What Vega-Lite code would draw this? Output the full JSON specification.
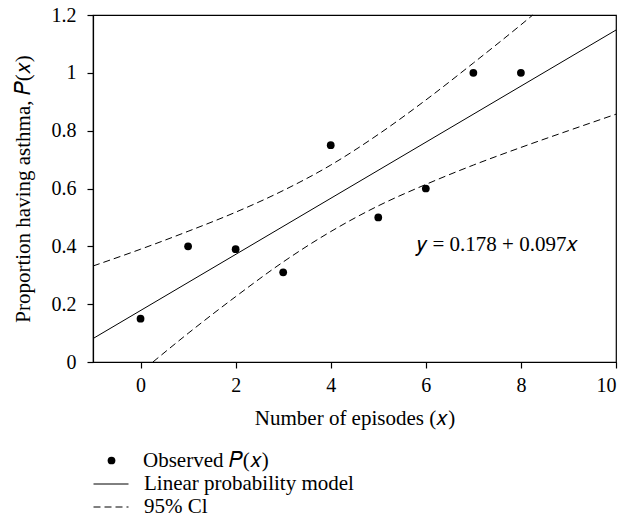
{
  "$schema": "https://vega.github.io/schema/vega-lite/v6.json",
  "width": 523,
  "height": 347,
  "autosize": {"type": "none"},
  "padding": {"left": 93, "top": 15, "right": 21, "bottom": 162},
  "background": "white",
  "config": {
    "font": "Liberation Serif",
    "view": {"stroke": "black", "strokeWidth": 1.2},
    "axis": {
      "labelFont": "Liberation Serif",
      "titleFont": "Liberation Serif",
      "labelFontSize": 20,
      "titleFontSize": 21,
      "titleFontWeight": "normal",
      "labelColor": "black",
      "titleColor": "black",
      "domainColor": "black",
      "tickColor": "black",
      "grid": false,
      "tickSize": 6,
      "domainWidth": 1.2,
      "tickWidth": 1.2
    },
    "legend": {"labelFont": "Liberation Serif", "labelFontSize": 21, "labelColor": "black", "labelLimit": 400, "padding": 0}
  },
  "datasets": {
    "observed": [
      {"x": 0, "p": 0.15, "series": "Observed P(x)"},
      {"x": 1, "p": 0.40, "series": "Observed P(x)"},
      {"x": 2, "p": 0.39, "series": "Observed P(x)"},
      {"x": 3, "p": 0.31, "series": "Observed P(x)"},
      {"x": 4, "p": 0.75, "series": "Observed P(x)"},
      {"x": 5, "p": 0.50, "series": "Observed P(x)"},
      {"x": 6, "p": 0.60, "series": "Observed P(x)"},
      {"x": 7, "p": 1.00, "series": "Observed P(x)"},
      {"x": 8, "p": 1.00, "series": "Observed P(x)"}
    ],
    "model": [
      {"x": -1, "p": 0.081, "series": "Linear probability model"},
      {"x": 10, "p": 1.148, "series": "Linear probability model"}
    ],
    "ci": [
      {"x": -1, "p": 0.332, "bound": "upper", "series": "95% Cl"},
      {"x": 0, "p": 0.390, "bound": "upper", "series": "95% Cl"},
      {"x": 1, "p": 0.452, "bound": "upper", "series": "95% Cl"},
      {"x": 2, "p": 0.518, "bound": "upper", "series": "95% Cl"},
      {"x": 3, "p": 0.593, "bound": "upper", "series": "95% Cl"},
      {"x": 4, "p": 0.681, "bound": "upper", "series": "95% Cl"},
      {"x": 5, "p": 0.787, "bound": "upper", "series": "95% Cl"},
      {"x": 6, "p": 0.906, "bound": "upper", "series": "95% Cl"},
      {"x": 7, "p": 1.034, "bound": "upper", "series": "95% Cl"},
      {"x": 8, "p": 1.166, "bound": "upper", "series": "95% Cl"},
      {"x": 8.25, "p": 1.2, "bound": "upper", "series": "95% Cl"},
      {"x": 0.26, "p": 0.0, "bound": "lower", "series": "95% Cl"},
      {"x": 1, "p": 0.099, "bound": "lower", "series": "95% Cl"},
      {"x": 2, "p": 0.226, "bound": "lower", "series": "95% Cl"},
      {"x": 3, "p": 0.346, "bound": "lower", "series": "95% Cl"},
      {"x": 4, "p": 0.451, "bound": "lower", "series": "95% Cl"},
      {"x": 5, "p": 0.540, "bound": "lower", "series": "95% Cl"},
      {"x": 6, "p": 0.614, "bound": "lower", "series": "95% Cl"},
      {"x": 7, "p": 0.681, "bound": "lower", "series": "95% Cl"},
      {"x": 8, "p": 0.742, "bound": "lower", "series": "95% Cl"},
      {"x": 9, "p": 0.800, "bound": "lower", "series": "95% Cl"},
      {"x": 10, "p": 0.857, "bound": "lower", "series": "95% Cl"}
    ],
    "eq": [
      {"x": 5.82, "p": 0.405, "label": "𝑦 = 0.178 + 0.097𝑥"}
    ]
  },
  "layer": [
    {
      "data": {"name": "ci"},
      "mark": {"type": "line", "color": "black", "strokeWidth": 1, "interpolate": "monotone"},
      "encoding": {
        "x": {"field": "x", "type": "quantitative", "scale": {"domain": [-1, 10], "nice": false, "zero": false}},
        "y": {"field": "p", "type": "quantitative", "scale": {"domain": [0, 1.2], "nice": false}},
        "detail": {"field": "bound"},
        "strokeDash": {
          "field": "series", "type": "nominal",
          "scale": {"domain": ["95% Cl"], "range": [[7, 4]]},
          "legend": {
            "title": null,
            "orient": "none",
            "legendX": 0,
            "legendY": 474,
            "symbolType": "stroke",
            "symbolSize": 1225,
            "symbolStrokeWidth": 1,
            "symbolStrokeColor": "black",
            "labelOffset": 15
          }
        }
      }
    },
    {
      "data": {"name": "model"},
      "mark": {"type": "line", "strokeWidth": 1},
      "encoding": {
        "x": {"field": "x", "type": "quantitative"},
        "y": {"field": "p", "type": "quantitative"},
        "color": {
          "field": "series", "type": "nominal",
          "scale": {"domain": ["Linear probability model"], "range": ["black"]},
          "legend": {
            "title": null,
            "orient": "none",
            "legendX": 0,
            "legendY": 451,
            "symbolType": "stroke",
            "symbolSize": 1225,
            "symbolStrokeWidth": 1,
            "labelOffset": 15
          }
        }
      }
    },
    {
      "data": {"name": "eq"},
      "mark": {"type": "text", "align": "left", "baseline": "middle", "fontSize": 21, "font": "Liberation Serif", "color": "black"},
      "encoding": {
        "x": {"field": "x", "type": "quantitative"},
        "y": {"field": "p", "type": "quantitative"},
        "text": {"field": "label"}
      }
    },
    {
      "data": {"name": "observed"},
      "mark": {"type": "point", "filled": true, "color": "black", "opacity": 1, "size": 60},
      "encoding": {
        "x": {
          "field": "x", "type": "quantitative",
          "axis": {"title": "Number of episodes (𝑥)", "values": [0, 2, 4, 6, 8, 10], "labelPadding": 7, "titlePadding": 12}
        },
        "y": {
          "field": "p", "type": "quantitative",
          "axis": {"title": "Proportion having asthma, 𝑃(𝑥)", "values": [0, 0.2, 0.4, 0.6, 0.8, 1, 1.2], "labelExpr": "format(datum.value, '~g')", "labelPadding": 11, "titlePadding": 18}
        },
        "shape": {
          "field": "series", "type": "nominal",
          "scale": {"domain": ["Observed P(x)"], "range": ["circle"]},
          "legend": {
            "title": null,
            "orient": "none",
            "legendX": 8,
            "legendY": 435,
            "symbolSize": 60,
            "symbolFillColor": "black",
            "symbolOpacity": 1,
            "labelOffset": 21,
            "labelExpr": "'Observed 𝑃(𝑥)'"
          }
        }
      }
    }
  ]
}
